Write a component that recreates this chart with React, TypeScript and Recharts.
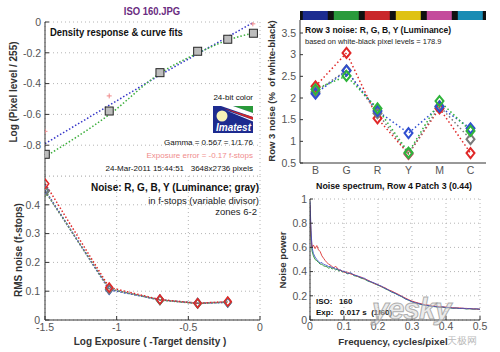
import React from 'react'
import { ComposedChart, BarChart, Bar, Cell, Line, Scatter, XAxis, YAxis, CartesianGrid } from 'recharts'

const FONT = '"Liberation Sans", Arial, Helvetica, sans-serif'

// density response & curve fits (top left)
const stepExposure = [-1.498, -1.052, -0.698, -0.435, -0.225, -0.046]
const stepPixelLog = [-0.859, -0.578, -0.329, -0.19, -0.112, -0.073]
const fitBlueX = [-1.5, -0.7, -0.05]
const fitBlueY = [-0.79, -0.345, -0.005]
const fitGreenX = [-1.5, -1.05, -0.7, -0.43, -0.225, -0.05]
const fitGreenY = [-0.875, -0.6, -0.335, -0.2, -0.118, -0.072]
const exposureMarkX = [-1.5, -1.052, -0.05]
const exposureMarkY = [-0.71, -0.48, -0.012]
const exposureTicks = [-1.5, -1, -0.5, 0]
const densityTicks = [-1, -0.8, -0.6, -0.4, -0.2, 0]

// noise in f-stops (bottom left)
const zoneExposure = [-1.498, -1.052, -0.698, -0.435, -0.225]
const fstopR = [0.473, 0.113, 0.071, 0.058, 0.064]
const fstopG = [0.446, 0.108, 0.069, 0.057, 0.062]
const fstopB = [0.45, 0.105, 0.07, 0.058, 0.061]
const fstopY = [0.448, 0.107, 0.07, 0.059, 0.062]
const fstopTicks = [0, 0.1, 0.2, 0.3, 0.4]

// row 3 noise (top right)
const patches = ['B', 'G', 'R', 'Y', 'M', 'C']
const patchColors = ['#1c2c90', '#2a9a3c', '#c9282b', '#dfc213', '#c44c9c', '#1a8cb4']
const patchBand = [1, 1, 1, 1, 1, 1]
const rowNoiseR = [2.27, 3.04, 1.53, 0.71, 1.76, 0.73]
const rowNoiseG = [2.2, 2.51, 1.76, 0.74, 1.93, 1.24]
const rowNoiseB = [2.1, 2.63, 1.7, 1.19, 1.8, 1.3]
const rowNoiseY = [2.14, 2.64, 1.65, 0.72, 1.81, 1.05]
const rowNoiseTicks = [0.5, 1, 1.5, 2, 2.5, 3, 3.5]

// noise spectrum (bottom right)
const freq = [
	0, 0.003, 0.006, 0.01, 0.015, 0.02, 0.025, 0.03, 0.035, 0.04,
	0.045, 0.05, 0.055, 0.06, 0.065, 0.07, 0.075, 0.08, 0.085, 0.09,
	0.095, 0.1, 0.11, 0.12, 0.13, 0.14, 0.15, 0.16, 0.17, 0.18,
	0.19, 0.2, 0.21, 0.22, 0.23, 0.24, 0.25, 0.26, 0.27, 0.28,
	0.29, 0.3, 0.31, 0.32, 0.33, 0.34, 0.35, 0.36, 0.37, 0.38,
	0.39, 0.4, 0.41, 0.42, 0.43, 0.44, 0.45, 0.46, 0.47, 0.48,
	0.49, 0.5,
]
const specR = [
	0.95, 0.7, 0.6, 0.62, 0.59, 0.615, 0.58, 0.565, 0.53, 0.51,
	0.49, 0.475, 0.46, 0.455, 0.44, 0.43, 0.445, 0.43, 0.415, 0.41,
	0.405, 0.395, 0.395, 0.38, 0.375, 0.36, 0.355, 0.34, 0.33, 0.315,
	0.3, 0.292, 0.275, 0.268, 0.25, 0.24, 0.225, 0.212, 0.196, 0.182,
	0.168, 0.156, 0.147, 0.139, 0.132, 0.126, 0.122, 0.116, 0.114, 0.11,
	0.108, 0.107, 0.103, 0.102, 0.099, 0.1, 0.096, 0.096, 0.093, 0.093,
	0.09, 0.09,
]
const specG = [
	0.9, 0.68, 0.57, 0.53, 0.5, 0.49, 0.475, 0.462, 0.46, 0.448,
	0.443, 0.44, 0.428, 0.435, 0.422, 0.428, 0.414, 0.42, 0.404, 0.41,
	0.396, 0.4, 0.382, 0.386, 0.366, 0.36, 0.346, 0.338, 0.322, 0.312,
	0.3, 0.287, 0.276, 0.26, 0.247, 0.232, 0.22, 0.206, 0.192, 0.176,
	0.163, 0.151, 0.142, 0.134, 0.126, 0.121, 0.117, 0.112, 0.109, 0.106,
	0.105, 0.101, 0.101, 0.097, 0.098, 0.095, 0.095, 0.092, 0.093, 0.09,
	0.09, 0.088,
]
const specB = [
	0.98, 0.74, 0.6, 0.55, 0.52, 0.5, 0.485, 0.47, 0.475, 0.46,
	0.455, 0.45, 0.44, 0.445, 0.43, 0.435, 0.42, 0.425, 0.41, 0.415,
	0.4, 0.405, 0.385, 0.39, 0.37, 0.365, 0.35, 0.345, 0.325, 0.315,
	0.305, 0.29, 0.28, 0.262, 0.25, 0.232, 0.222, 0.205, 0.195, 0.175,
	0.165, 0.15, 0.143, 0.135, 0.128, 0.12, 0.119, 0.112, 0.111, 0.105,
	0.109, 0.102, 0.104, 0.097, 0.1, 0.095, 0.098, 0.092, 0.095, 0.09,
	0.093, 0.088,
]
const freqTicks = [0, 0.1, 0.2, 0.3, 0.4, 0.5]
const powerTicks = [0, 0.2, 0.4, 0.6, 0.8, 1]

const RED = '#e02828'
const GREEN = '#2fb43a'
const BLUE = '#2f4fd0'
const GRAY = '#7a7a7a'
const FRAME = '#333'

const tickStyle = { fill: '#555', fontSize: 10.5, fontFamily: FONT }
const gridProps = { stroke: '#b4b4b4', strokeDasharray: '1 3' }

function diamond(color: string, w: number, h: number, sw: number) {
	return (p: any) => {
		if (p.cx == null || p.cy == null) return <g key={`d-${p.index}`} />
		return (
			<polygon
				key={`d-${p.index}`}
				points={`${p.cx},${p.cy - h} ${p.cx + w},${p.cy} ${p.cx},${p.cy + h} ${p.cx - w},${p.cy}`}
				fill="none"
				stroke={color}
				strokeWidth={sw}
			/>
		)
	}
}

const squareShape = (p: any) => (
	<rect x={p.cx - 4} y={p.cy - 4} width={8} height={8} fill="#bdbdbd" stroke="#262626" strokeWidth={1} />
)
const plusShape = (p: any) => (
	<path d={`M${p.cx - 2.5},${p.cy}h5M${p.cx},${p.cy - 2.5}v5`} stroke="#f08a8a" strokeWidth={1} />
)

type TxtProps = {
	x: number
	y: number
	size: number
	bold?: boolean
	italic?: boolean
	color?: string
	anchor?: 'start' | 'middle' | 'end'
	rotate?: boolean
	sx?: number
	children: React.ReactNode
}

function Txt({ x, y, size, bold, italic, color = '#111', anchor = 'start', rotate, sx = 1, children }: TxtProps) {
	let transform = ''
	let origin = '50% 50%'
	if (rotate) {
		transform = `translate(-50%,-50%) rotate(-90deg) scaleX(${sx})`
	} else if (anchor === 'start') {
		transform = `translate(0,-50%) scaleX(${sx})`
		origin = '0 50%'
	} else if (anchor === 'end') {
		transform = `translate(-100%,-50%) scaleX(${sx})`
		origin = '100% 50%'
	} else {
		transform = `translate(-50%,-50%) scaleX(${sx})`
	}
	return (
		<div
			style={{
				position: 'absolute',
				left: x,
				top: y,
				transform,
				transformOrigin: origin,
				whiteSpace: 'pre',
				lineHeight: 1,
				fontFamily: FONT,
				fontSize: size,
				fontWeight: bold ? 'bold' : 'normal',
				fontStyle: italic ? 'italic' : 'normal',
				color,
			}}
		>
			{children}
		</div>
	)
}

function ImatestLogo() {
	return (
		<svg style={{ position: 'absolute', left: 213, top: 106 }} width={40} height={27}>
			<rect width={40} height={27} fill="#1d2b8f" />
			<polygon points="20,0 40,0 40,7" fill="#2a9a3a" />
			<polygon points="8,0 20,0 40,7 40,11" fill="#ffffff" />
			<polygon points="10,2 40,11 40,14" fill="#d0282a" />
			<polygon points="12,4 40,14 40,15.5" fill="#ffffff" />
			<circle cx={9} cy={10} r={5.5} fill="#f6f2b8" />
			<text x={38} y={24.5} textAnchor="end" fill="#fff" fontSize={10} fontWeight="bold" fontStyle="italic" fontFamily={FONT}>
				Imatest
			</text>
		</svg>
	)
}

function DensityChart() {
	const squares = stepExposure.map((x, i) => ({ x, y: stepPixelLog[i] }))
	const blue = fitBlueX.map((x, i) => ({ x, y: fitBlueY[i] }))
	const green = fitGreenX.map((x, i) => ({ x, y: fitGreenY[i] }))
	const marks = exposureMarkX.map((x, i) => ({ x, y: exposureMarkY[i] }))
	return (
		<ComposedChart width={270} height={180} margin={{ top: 22, right: 10, bottom: 4, left: 0 }}>
			<CartesianGrid {...gridProps} />
			<XAxis dataKey="x" type="number" domain={[-1.5, 0]} ticks={exposureTicks} allowDataOverflow height={0} tick={false} tickSize={-4} stroke={FRAME} />
			<XAxis xAxisId="top" orientation="top" type="number" domain={[-1.5, 0]} ticks={exposureTicks} allowDataOverflow height={0} tick={false} tickSize={-4} stroke={FRAME} />
			<YAxis dataKey="y" type="number" domain={[-1, 0]} ticks={densityTicks} allowDataOverflow width={45} tick={tickStyle} tickSize={-4} tickMargin={8} stroke={FRAME} />
			<YAxis yAxisId="right" orientation="right" type="number" domain={[-1, 0]} ticks={densityTicks} width={0} tick={false} tickSize={-4} stroke={FRAME} />
			<Line data={blue} dataKey="y" stroke="#3434c8" strokeWidth={1.5} strokeDasharray="1.5 2" dot={false} activeDot={false} isAnimationActive={false} />
			<Line data={green} dataKey="y" type="monotone" stroke="#3cae3c" strokeWidth={1.5} strokeDasharray="1.5 2" dot={false} activeDot={false} isAnimationActive={false} />
			<Scatter data={marks} shape={plusShape} isAnimationActive={false} />
			<Scatter data={squares} shape={squareShape} isAnimationActive={false} />
		</ComposedChart>
	)
}

function FstopNoiseChart() {
	const data = zoneExposure.map((x, i) => ({ x, r: fstopR[i], g: fstopG[i], b: fstopB[i], l: fstopY[i] }))
	const series = [
		{ key: 'b', color: BLUE },
		{ key: 'g', color: '#4a8f4a' },
		{ key: 'l', color: GRAY },
		{ key: 'r', color: RED },
	]
	return (
		<ComposedChart width={270} height={176} data={data} margin={{ top: 0, right: 10, bottom: 0, left: 0 }}>
			<CartesianGrid {...gridProps} />
			<XAxis dataKey="x" type="number" domain={[-1.5, 0]} ticks={exposureTicks} allowDataOverflow height={32} tick={tickStyle} tickSize={-4} tickMargin={8} stroke={FRAME} />
			<XAxis xAxisId="top" orientation="top" type="number" domain={[-1.5, 0]} ticks={exposureTicks} height={0} tick={false} tickSize={-4} stroke={FRAME} />
			<YAxis type="number" domain={[0, 0.5]} ticks={fstopTicks} allowDataOverflow width={45} tick={tickStyle} tickSize={-4} tickMargin={9} stroke={FRAME} />
			<YAxis yAxisId="right" orientation="right" type="number" domain={[0, 0.5]} ticks={fstopTicks} width={0} tick={false} tickSize={-4} stroke={FRAME} />
			{series.map((s) => (
				<Line
					key={s.key}
					dataKey={s.key}
					stroke={s.color}
					strokeWidth={1.5}
					strokeDasharray="1.5 2"
					dot={diamond(s.color, 3.5, 4.5, 1.5)}
					activeDot={false}
					isAnimationActive={false}
				/>
			))}
		</ComposedChart>
	)
}

function RowNoiseChart() {
	const data = patches.map((cat, i) => ({ cat, r: rowNoiseR[i], g: rowNoiseG[i], b: rowNoiseB[i], l: rowNoiseY[i] }))
	const series = [
		{ key: 'r', color: RED },
		{ key: 'l', color: GRAY },
		{ key: 'b', color: BLUE },
		{ key: 'g', color: GREEN },
	]
	return (
		<ComposedChart width={250} height={180} data={data} margin={{ top: 20, right: 14, bottom: 0, left: 0 }}>
			<XAxis dataKey="cat" padding={{ left: 15.5, right: 15.5 }} height={17} tick={tickStyle} tickLine={false} tickSize={0} tickMargin={4} stroke={FRAME} />
			<XAxis xAxisId="top" orientation="top" dataKey="cat" padding={{ left: 15.5, right: 15.5 }} height={0} tick={false} tickSize={-4} stroke={FRAME} />
			<YAxis type="number" domain={[0.5, 3.8]} ticks={rowNoiseTicks} allowDataOverflow width={50} tick={tickStyle} tickSize={-3} tickMargin={7} stroke={FRAME} />
			<YAxis yAxisId="right" orientation="right" type="number" domain={[0.5, 3.8]} ticks={rowNoiseTicks} width={0} tick={false} tickSize={-3} stroke={FRAME} />
			{series.map((s) => (
				<Line
					key={s.key}
					dataKey={s.key}
					stroke={s.color}
					strokeWidth={1.5}
					strokeDasharray="1.5 2.5"
					dot={diamond(s.color, 4, 5, 2)}
					activeDot={false}
					isAnimationActive={false}
				/>
			))}
		</ComposedChart>
	)
}

function PatchBar() {
	const data = patches.map((cat, i) => ({ cat, v: patchBand[i] }))
	return (
		<BarChart width={186} height={9} data={data} margin={{ top: 0, right: 0, bottom: 0, left: 0 }} barCategoryGap="9%">
			<XAxis dataKey="cat" hide />
			<YAxis domain={[0, 1]} hide />
			<Bar dataKey="v" isAnimationActive={false}>
				{data.map((d, i) => (
					<Cell key={d.cat} fill={patchColors[i]} />
				))}
			</Bar>
		</BarChart>
	)
}

function SpectrumChart() {
	const data = freq.map((f, i) => ({ f, r: specR[i], g: specG[i], b: specB[i] }))
	return (
		<ComposedChart width={250} height={176} data={data} margin={{ top: 23, right: 20, bottom: 0, left: 0 }}>
			<CartesianGrid {...gridProps} />
			<XAxis dataKey="f" type="number" domain={[0, 0.5]} ticks={freqTicks} allowDataOverflow height={32} tick={tickStyle} tickSize={-4} tickMargin={7} stroke={FRAME} />
			<XAxis xAxisId="top" orientation="top" type="number" domain={[0, 0.5]} ticks={freqTicks} height={0} tick={false} tickSize={-4} stroke={FRAME} />
			<YAxis type="number" domain={[0, 1]} ticks={powerTicks} allowDataOverflow width={60} tick={tickStyle} tickSize={-3} tickMargin={6} stroke={FRAME} />
			<YAxis yAxisId="right" orientation="right" type="number" domain={[0, 1]} ticks={powerTicks} width={0} tick={false} tickSize={-3} stroke={FRAME} />
			<Line dataKey="g" stroke="#3aa040" strokeWidth={1} dot={false} activeDot={false} isAnimationActive={false} />
			<Line dataKey="r" stroke="#e04848" strokeWidth={1} dot={false} activeDot={false} isAnimationActive={false} />
			<Line dataKey="b" stroke="#3a4cc8" strokeWidth={1} strokeOpacity={0.85} dot={false} activeDot={false} isAnimationActive={false} />
		</ComposedChart>
	)
}

export default function App() {
	return (
		<div style={{ position: 'absolute', left: 0, top: 0, width: 500, height: 352, background: '#fff', overflow: 'hidden', fontFamily: FONT }}>
			<div style={{ position: 'absolute', left: 0, top: 0 }}>
				<DensityChart />
			</div>
			<div style={{ position: 'absolute', left: 0, top: 176 }}>
				<FstopNoiseChart />
			</div>
			<div style={{ position: 'absolute', left: 250, top: 0 }}>
				<RowNoiseChart />
			</div>
			<div style={{ position: 'absolute', left: 300, top: 11, width: 186, height: 9, background: '#111' }}>
				<PatchBar />
			</div>
			<div style={{ position: 'absolute', left: 250, top: 176 }}>
				<SpectrumChart />
			</div>

			{/* top left */}
			<Txt x={152} y={10.5} size={11} bold color="#6a2b80" anchor="middle" sx={0.86}>ISO 160.JPG</Txt>
			<Txt x={50} y={32} size={10.5} bold sx={0.9}>Density response &amp; curve fits</Txt>
			<Txt x={253} y={98} size={8} anchor="end">24-bit color</Txt>
			<ImatestLogo />
			<Txt x={253} y={143} size={8} anchor="end">Gamma = 0.567 = 1/1.76</Txt>
			<Txt x={253} y={156} size={8} anchor="end" color="#f08c8c">Exposure error = -0.17 f-stops</Txt>
			<Txt x={253} y={168.5} size={8} anchor="end">24-Mar-2011 15:44:51   3648x2736 pixels</Txt>
			<Txt x={14} y={92} size={10} bold color="#333" rotate>Log (Pixel level / 255)</Txt>

			{/* bottom left */}
			<Txt x={259} y={187.5} size={10} bold anchor="end">Noise: R, G, B, Y (Luminance; gray)</Txt>
			<Txt x={259} y={201} size={9.5} anchor="end" color="#222">in f-stops (variable divisor)</Txt>
			<Txt x={257} y={212} size={9.5} anchor="end" color="#222">zones 6-2</Txt>
			<Txt x={19} y={250} size={10} bold color="#333" rotate>RMS noise (f-stops)</Txt>
			<Txt x={150} y={342} size={10} bold color="#333" anchor="middle">Log Exposure ( -Target density )</Txt>

			{/* top right */}
			<Txt x={305} y={30} size={8.5} bold>Row 3 noise: R, G, B, Y (Luminance)</Txt>
			<Txt x={305} y={41.5} size={7.5} color="#222">based on white-black pixel levels = 178.9</Txt>
			<Txt x={272} y={91} size={9.5} bold color="#333" rotate>Row 3 noise (%  of white-black)</Txt>

			{/* bottom right */}
			<Txt x={394} y={186} size={8.8} bold anchor="middle">Noise spectrum, Row 4 Patch 3 (0.44)</Txt>
			<Txt x={283} y={260} size={9.6} bold color="#333" rotate>Noise power</Txt>
			<Txt x={393} y={342} size={9.8} bold color="#333" anchor="middle">Frequency, cycles/pixel</Txt>
			<Txt x={316} y={302} size={8} bold>ISO:   160</Txt>
			<Txt x={316} y={312.5} size={8} bold>Exp:   0.017 s  (1/60)</Txt>

			{/* watermark */}
			<div
				style={{
					position: 'absolute',
					left: 372,
					top: 294,
					fontFamily: FONT,
					fontSize: 30,
					fontWeight: 'bold',
					fontStyle: 'italic',
					lineHeight: 1,
					color: 'rgba(215,215,215,0.5)',
					WebkitTextStroke: '1px rgba(150,150,150,0.75)',
					letterSpacing: -1,
				}}
			>
				yesky
			</div>
			<Txt x={462} y={341} size={10} color="rgba(170,170,170,0.8)" anchor="middle">天极网</Txt>
		</div>
	)
}
